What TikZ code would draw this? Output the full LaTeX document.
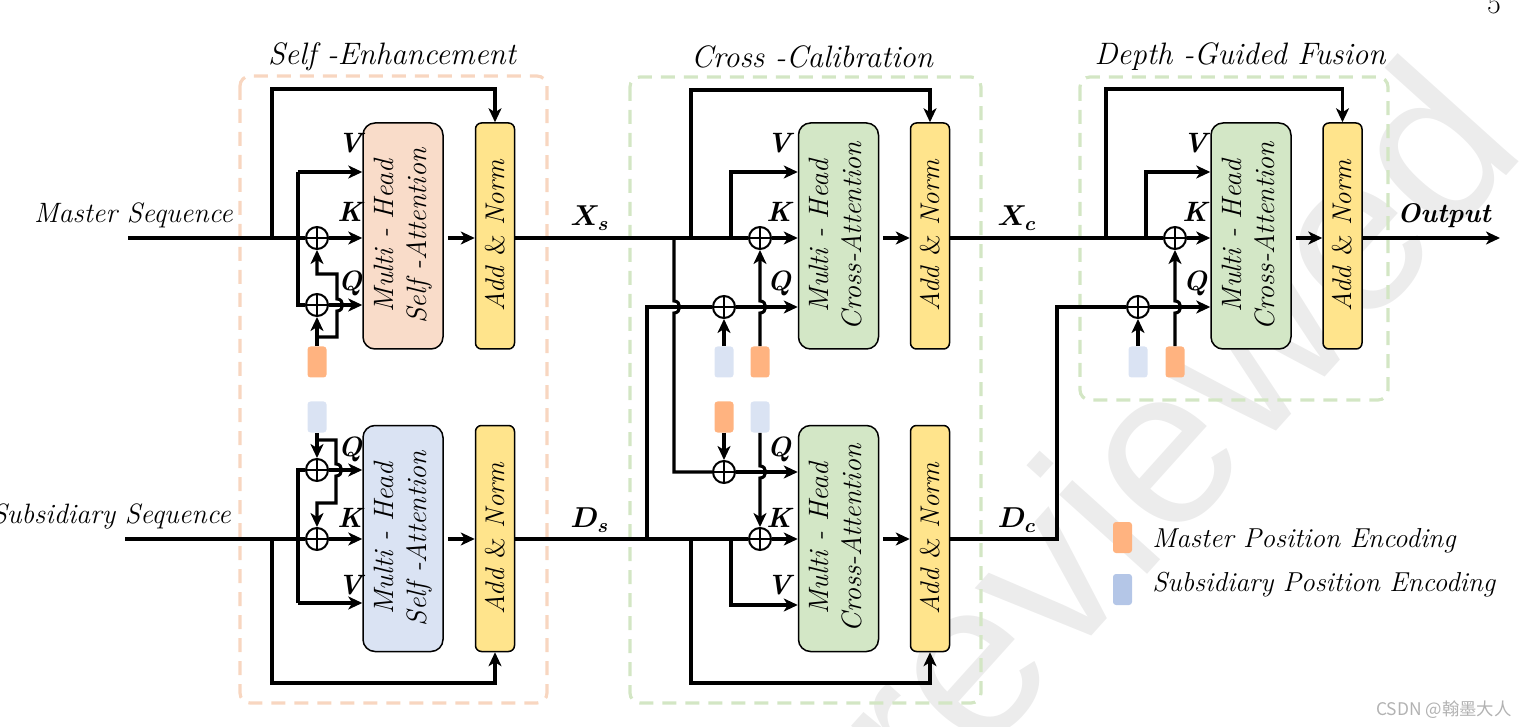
\documentclass[tikz,border=0pt]{standalone}
\usepackage{fontspec}
\usepackage{amsmath}
\usepackage{bm}
\usepackage{tikz}
\usetikzlibrary{arrows.meta,calc,positioning}
\newfontfamily\cjkfont{Noto Sans CJK SC}
\newfontfamily\marksans{Liberation Sans}
\definecolor{saFill}{HTML}{F9DCC9}
\definecolor{sbFill}{HTML}{DAE3F3}
\definecolor{caFill}{HTML}{D3E7C6}
\definecolor{anFill}{HTML}{FFE48C}
\definecolor{peOrange}{HTML}{FFB380}
\definecolor{peBlue}{HTML}{DAE3F3}
\definecolor{lgBlue}{HTML}{B4C6E7}
\definecolor{dashOrange}{HTML}{F8D6C0}
\definecolor{dashGreen}{HTML}{D3E6C4}
\tikzset{
        attn/.style = {draw, rounded corners=6pt, line width=0.75pt,
            minimum width=40pt, minimum height=113pt, inner sep=0pt,
            font=\fontsize{14}{16.5}\selectfont\itshape},
        addnorm/.style = {draw, fill=anFill, rounded corners=3pt, line width=0.75pt,
            minimum width=19.5pt, minimum height=113pt, inner sep=0pt,
            font=\fontsize{13.5}{15}\selectfont\itshape},
        sum/.style = {draw, circle, line width=1pt, minimum size=11pt, inner sep=0pt,
            path picture={\draw[line width=0.8pt] (path picture bounding box.north) -- (path picture bounding box.south)
                (path picture bounding box.west) -- (path picture bounding box.east);}},
        pe/.style = {rounded corners=1.5pt, minimum width=9.5pt, minimum height=15.5pt, inner sep=0pt},
        wire/.style = {draw, line width=1.55pt},
        arrow/.style = {draw, line width=1.55pt, -{Stealth[length=7pt,width=6.5pt,inset=2pt]}},
        qkv/.style = {font=\fontsize{14}{16}\selectfont\bfseries\itshape},
        module/.style = {line width=1.6pt, dash pattern=on 7pt off 4.5pt, rounded corners=5pt},
        modtitle/.style = {font=\fontsize{15.5}{17}\selectfont\itshape},
        seqlabel/.style = {font=\fontsize{14}{16}\selectfont\itshape, inner sep=0pt},
        legendtext/.style = {font=\fontsize{13.7}{16}\selectfont\itshape, inner sep=0pt},
    }
\newcommand{\addnormtext}{\rotatebox{90}{Add \textup{\&} Norm}}

\begin{document}
\begin{tikzpicture}[x=0.5pt, y=-0.5pt]
    \useasboundingbox (0,0) rectangle (1527,727);

    % watermark
    \node[rotate=48, text=gray!15, font=\marksans\fontsize{112}{112}\selectfont] (wmark) at (1170,430) {reviewed};

    % modules
    \draw[module, draw=dashOrange] (240,76) rectangle (547,703);
    \draw[module, draw=dashGreen] (630,77) rectangle (981,703);
    \draw[module, draw=dashGreen] (1080,77) rectangle (1388,400);
    \node[modtitle] (tSelf) at (392,57) {Self -Enhancement};
    \node[modtitle] (tCross) at (812,57) {Cross -Calibration};
    \node[modtitle] (tDepth) at (1240,57) {Depth -Guided Fusion};

    % self-enhancement
    \node[attn, fill=saFill] (saT) at (403,236) {\rotatebox{90}{\begin{tabular}{@{}c@{}}Multi - Head\\Self -Attention\end{tabular}}};
    \node[addnorm] (anT1) at (495,236) {\addnormtext};
    \node[attn, fill=sbFill] (saB) at (403,538.5) {\rotatebox{90}{\begin{tabular}{@{}c@{}}Multi - Head\\Self -Attention\end{tabular}}};
    \node[addnorm] (anB1) at (495,538.5) {\addnormtext};
    \node[sum] (sk1) at (317,238) {};
    \node[sum] (sq1) at (317,305) {};
    \node[sum] (sq2) at (317,470) {};
    \node[sum] (sk2) at (317,539) {};
    \node[pe, fill=peOrange] (pe1) at (317,362) {};
    \node[pe, fill=peBlue] (pe2) at (317,417) {};
    \coordinate (ms) at (128,238);
    \coordinate (ss) at (125,539);
    \node[seqlabel, anchor=east] (msl) at (233,215) {Master Sequence};
    \node[seqlabel, anchor=east] (ssl) at (231,516) {Subsidiary Sequence};

    \node[qkv] (lv1) at (350,143) {V};
    \node[qkv] (lk1) at (350,212) {K};
    \node[qkv] (lq1) at (350,283) {Q};
    \node[qkv] (lq2) at (350,449) {Q};
    \node[qkv] (lk2) at (350,518) {K};
    \node[qkv] (lv2) at (350,585) {V};

    \coordinate (r1) at (272,238);
    \coordinate (v1) at (298,172);
    \draw[wire] (ms) -- (sk1);
    \draw[arrow] (sk1) -- (sk1 -| saT.west);
    \draw[arrow] (r1) -- (272,89) -| (anT1.north);
    \draw[wire] (v1) -- (298,305) -- (sq1);
    \draw[arrow] (v1) -- (v1 -| saT.west);
    \draw[arrow] (sq1) -- (sq1 -| saT.west);
    \draw[arrow] (pe1.north) -- (sq1);
    \draw[arrow] (317,337) -- (337,337) -- (337,311) .. controls (344.5,311) and (344.5,299) .. (337,299) -- (337,274) -- (317,274) -- (sk1);
    \draw[arrow, shorten <=2pt] (saT.east |- sk1) -- (anT1.west |- sk1);

    \coordinate (r2) at (272,539);
    \coordinate (q2) at (298,470);
    \coordinate (v2) at (298,603);
    \draw[wire] (ss) -- (sk2);
    \draw[arrow] (sk2) -- (sk2 -| saB.west);
    \draw[arrow] (r2) -- (272,683) -| (anB1.south);
    \draw[wire] (v2) -- (q2) -- (sq2);
    \draw[arrow] (sq2) -- (sq2 -| saB.west);
    \draw[arrow] (v2) -- (v2 -| saB.west);
    \draw[arrow] (pe2.south) -- (sq2);
    \draw[arrow] (317,440) -- (336,440) -- (336,464) .. controls (343.5,464) and (343.5,476) .. (336,476) -- (336,503) -- (317,503) -- (sk2);
    \draw[arrow, shorten <=2pt] (saB.east |- sk2) -- (anB1.west |- sk2);

    % cross-calibration
    \node[attn, fill=caFill] (caT) at (838.5,236) {\rotatebox{90}{\begin{tabular}{@{}c@{}}Multi - Head\\Cross-Attention\end{tabular}}};
    \node[addnorm] (anT2) at (930,236) {\addnormtext};
    \node[attn, fill=caFill] (caB) at (838.5,538.5) {\rotatebox{90}{\begin{tabular}{@{}c@{}}Multi - Head\\Cross-Attention\end{tabular}}};
    \node[addnorm] (anB2) at (930,538.5) {\addnormtext};
    \node[sum] (sk3) at (760,238) {};
    \node[sum] (sq3) at (724,307) {};
    \node[sum] (sq4) at (724,472) {};
    \node[sum] (sk4) at (760,539) {};
    \node[pe, fill=peBlue] (pe3) at (724,362) {};
    \node[pe, fill=peOrange] (pe4) at (760,362) {};
    \node[pe, fill=peOrange] (pe5) at (724,417) {};
    \node[pe, fill=peBlue] (pe6) at (760,417) {};

    \node[qkv] (lv3) at (779,143) {V};
    \node[qkv] (lk3) at (779,212) {K};
    \node[qkv] (lq3) at (779,283) {Q};
    \node[qkv] (lq4) at (779,449) {Q};
    \node[qkv] (lk4) at (779,518) {K};
    \node[qkv] (lv4) at (779,585) {V};
    \node[qkv] (xs) at (590,218) {$\bm{X_s}$};
    \node[qkv] (ds) at (590,520) {$\bm{D_s}$};

    \coordinate (r3) at (691,238);
    \coordinate (v3) at (731,172);
    \coordinate (r4) at (691,539);
    \coordinate (v4) at (731,605);
    \draw[wire] (anT1.east |- sk1) -- (sk3);
    \draw[arrow] (sk3) -- (sk3 -| caT.west);
    \draw[arrow] (r3) -- (691,90) -| (anT2.north);
    \draw[arrow] (731,238) -- (v3) -- (v3 -| caT.west);
    \draw[wire] (674,238) -- (674,301) .. controls (681.5,301) and (681.5,313) .. (674,313) -- (674,472) -- (sq4);
    \draw[arrow] (sq4) -- (sq4 -| caB.west);
    \draw[wire] (anB1.east |- sk2) -- (sk4);
    \draw[arrow] (sk4) -- (sk4 -| caB.west);
    \draw[wire] (647,539) -- (647,307) -- (sq3);
    \draw[arrow] (sq3) -- (sq3 -| caT.west);
    \draw[arrow] (r4) -- (691,683) -| (anB2.south);
    \draw[arrow] (731,539) -- (v4) -- (v4 -| caB.west);
    \draw[arrow] (pe3.north) -- (sq3);
    \draw[arrow] (pe4.north) -- (760,313) .. controls (767.5,313) and (767.5,301) .. (760,301) -- (sk3);
    \draw[arrow] (pe5.south) -- (sq4);
    \draw[arrow] (pe6.south) -- (760,466) .. controls (767.5,466) and (767.5,478) .. (760,478) -- (sk4);
    \draw[arrow, shorten <=2pt] (caT.east |- sk3) -- (anT2.west |- sk3);
    \draw[arrow, shorten <=2pt] (caB.east |- sk4) -- (anB2.west |- sk4);

    % depth-guided fusion
    \node[attn, fill=caFill] (dgf) at (1251,236) {\rotatebox{90}{\begin{tabular}{@{}c@{}}Multi - Head\\Cross-Attention\end{tabular}}};
    \node[addnorm] (anT3) at (1342.5,236) {\addnormtext};
    \node[sum] (sk5) at (1175,238) {};
    \node[sum] (sq5) at (1138,307) {};
    \node[pe, fill=peBlue] (pe7) at (1138,362) {};
    \node[pe, fill=peOrange] (pe8) at (1175,362) {};

    \node[qkv] (lv5) at (1195,143) {V};
    \node[qkv] (lk5) at (1195,212) {K};
    \node[qkv] (lq5) at (1195,283) {Q};
    \node[qkv] (xc) at (1017,218) {$\bm{X_c}$};
    \node[qkv] (dc) at (1017,520) {$\bm{D_c}$};
    \node[qkv, font=\fontsize{13.5}{16}\selectfont\bfseries\itshape] (outl) at (1444,216) {Output};

    \coordinate (r5) at (1106,238);
    \coordinate (v5) at (1146,172);
    \coordinate (out) at (1500,238);
    \draw[wire] (anT2.east |- sk3) -- (sk5);
    \draw[arrow] (sk5) -- (sk5 -| dgf.west);
    \draw[arrow] (r5) -- (1106,89) -| (anT3.north);
    \draw[arrow] (1146,238) -- (v5) -- (v5 -| dgf.west);
    \draw[wire] (anB2.east |- sk4) -- (1057,539) -- (1057,307) -- (sq5);
    \draw[arrow] (sq5) -- (sq5 -| dgf.west);
    \draw[arrow] (pe7.north) -- (sq5);
    \draw[arrow] (pe8.north) -- (1175,313) .. controls (1182.5,313) and (1182.5,301) .. (1175,301) -- (sk5);
    \draw[arrow, shorten <=2pt] (dgf.east |- sk5) -- (anT3.west |- sk5);
    \draw[arrow] (anT3.east |- sk5) -- (out);

    % legend
    \node[pe, fill=peOrange] (lgM) at (1122.5,537.5) {};
    \node[legendtext, anchor=west] (lgMt) at (1152,541) {Master Position Encoding};
    \node[pe, fill=lgBlue] (lgS) at (1122.5,589.5) {};
    \node[legendtext, anchor=west] (lgSt) at (1152,585) {Subsidiary Position Encoding};

    \node[font=\fontsize{15}{17}\selectfont, anchor=base, inner sep=0pt] (pgno) at (1494,14) {5};
    \node[font=\cjkfont\fontsize{8.7}{10}\selectfont, text=gray!60, anchor=east, inner sep=0pt] (csdn) at (1512,710) {CSDN @翰墨大人};
\end{tikzpicture}
\end{document}
